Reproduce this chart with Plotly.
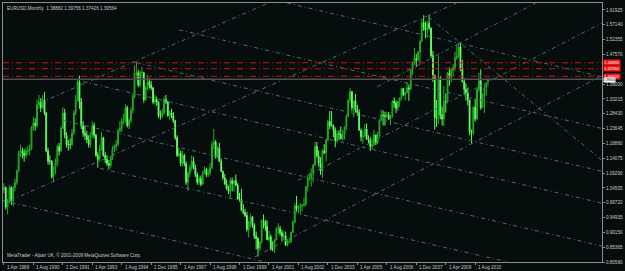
import pandas as pd
import plotly.graph_objects as go

# ---- monthly OHLC, Apr 1989 .. Mar 2011 ----
open_ = [
    1.040, 1.046, 0.983, 1.003, 1.046, 1.003, 1.046, 1.063, 1.099,
    1.157, 1.164, 1.157, 1.150, 1.164, 1.164, 1.171, 1.238, 1.254, 1.246, 1.313, 1.322,
    1.304, 1.330, 1.287, 1.164, 1.131, 1.131, 1.081, 1.111, 1.124, 1.178, 1.164, 1.238,
    1.287, 1.215, 1.185, 1.185, 1.185, 1.222, 1.287, 1.330, 1.387, 1.322, 1.246, 1.222,
    1.215, 1.200, 1.185, 1.215, 1.246, 1.215, 1.150, 1.137, 1.171, 1.207, 1.150, 1.137,
    1.124, 1.118, 1.144, 1.171, 1.178, 1.185, 1.230, 1.238, 1.262, 1.262, 1.304, 1.246,
    1.262, 1.295, 1.340, 1.417, 1.417, 1.377, 1.417, 1.417, 1.330, 1.368, 1.387, 1.377,
    1.368, 1.322, 1.330, 1.322, 1.278, 1.278, 1.287, 1.330, 1.322, 1.278, 1.287, 1.278,
    1.262, 1.207, 1.150, 1.157, 1.124, 1.150, 1.124, 1.063, 1.093, 1.111, 1.131, 1.111,
    1.087, 1.063, 1.075, 1.057, 1.093, 1.105, 1.087, 1.093, 1.111, 1.185, 1.193, 1.144,
    1.174, 1.130, 1.098, 1.078, 1.057, 1.043, 1.034, 1.068, 1.059, 1.068, 1.054, 1.009,
    1.007, 0.972, 0.965, 0.956, 0.911, 0.935, 0.952, 0.924, 0.889, 0.882, 0.850, 0.870,
    0.939, 0.936, 0.921, 0.878, 0.887, 0.847, 0.847, 0.877, 0.912, 0.913, 0.900, 0.889,
    0.890, 0.860, 0.870, 0.872, 0.902, 0.934, 0.987, 0.978, 0.981, 0.986, 0.989, 0.993,
    1.049, 1.077, 1.079, 1.091, 1.118, 1.179, 1.149, 1.125, 1.099, 1.164, 1.158, 1.200,
    1.259, 1.246, 1.246, 1.231, 1.198, 1.220, 1.218, 1.203, 1.217, 1.241, 1.276, 1.329,
    1.356, 1.304, 1.326, 1.296, 1.288, 1.231, 1.210, 1.212, 1.235, 1.202, 1.199, 1.179,
    1.184, 1.216, 1.192, 1.212, 1.262, 1.280, 1.279, 1.276, 1.281, 1.267, 1.276, 1.325,
    1.319, 1.302, 1.324, 1.335, 1.366, 1.345, 1.354, 1.368, 1.364, 1.426, 1.447, 1.463,
    1.459, 1.483, 1.518, 1.578, 1.562, 1.555, 1.576, 1.561, 1.472, 1.409, 1.272, 1.270,
    1.397, 1.280, 1.267, 1.324, 1.323, 1.416, 1.403, 1.425, 1.433, 1.464, 1.472, 1.500,
    1.432, 1.387, 1.363, 1.351, 1.329, 1.227, 1.223, 1.305, 1.268, 1.363, 1.391, 1.304,
    1.338, 1.369, 1.38882,
]
high = [
    1.060, 1.050, 1.010, 1.055, 1.050, 1.050, 1.075, 1.105, 1.165,
    1.185, 1.175, 1.170, 1.175, 1.180, 1.185, 1.245, 1.275, 1.270, 1.330, 1.345, 1.335,
    1.345, 1.354, 1.290, 1.175, 1.150, 1.135, 1.115, 1.140, 1.185, 1.190, 1.245, 1.305,
    1.300, 1.225, 1.200, 1.205, 1.235, 1.295, 1.345, 1.395, 1.407, 1.335, 1.260, 1.245,
    1.230, 1.215, 1.225, 1.260, 1.255, 1.220, 1.160, 1.185, 1.225, 1.210, 1.160, 1.150,
    1.135, 1.150, 1.180, 1.185, 1.200, 1.235, 1.260, 1.270, 1.285, 1.315, 1.310, 1.270,
    1.305, 1.350, 1.440, 1.454, 1.425, 1.425, 1.435, 1.420, 1.375, 1.410, 1.400, 1.390,
    1.370, 1.345, 1.340, 1.325, 1.295, 1.300, 1.340, 1.345, 1.325, 1.295, 1.300, 1.290,
    1.265, 1.215, 1.175, 1.165, 1.165, 1.155, 1.130, 1.100, 1.120, 1.150, 1.145, 1.120,
    1.095, 1.085, 1.085, 1.100, 1.115, 1.110, 1.105, 1.125, 1.195, 1.235, 1.200, 1.180,
    1.1905, 1.140, 1.100, 1.090, 1.072, 1.052, 1.078, 1.078, 1.070, 1.088, 1.060, 1.029,
    1.042, 0.992, 0.978, 0.968, 0.938, 0.962, 0.953, 0.931, 0.904, 0.886, 0.872, 0.944,
    0.959, 0.942, 0.940, 0.906, 0.895, 0.873, 0.881, 0.919, 0.931, 0.922, 0.909, 0.905,
    0.904, 0.879, 0.884, 0.904, 0.940, 0.996, 1.019, 0.989, 0.996, 0.992, 1.014, 1.050,
    1.086, 1.093, 1.108, 1.123, 1.193, 1.193, 1.166, 1.144, 1.170, 1.186, 1.202, 1.264,
    1.293, 1.293, 1.250, 1.240, 1.230, 1.232, 1.243, 1.233, 1.243, 1.282, 1.330, 1.367,
    1.356, 1.328, 1.348, 1.313, 1.299, 1.237, 1.229, 1.251, 1.253, 1.215, 1.209, 1.204,
    1.232, 1.217, 1.225, 1.266, 1.298, 1.295, 1.291, 1.291, 1.290, 1.281, 1.328, 1.337,
    1.327, 1.326, 1.337, 1.368, 1.368, 1.355, 1.385, 1.379, 1.428, 1.453, 1.497, 1.478,
    1.487, 1.524, 1.591, 1.602, 1.582, 1.584, 1.604, 1.562, 1.487, 1.409, 1.329, 1.472,
    1.406, 1.307, 1.374, 1.350, 1.419, 1.434, 1.431, 1.444, 1.485, 1.506, 1.514, 1.514,
    1.458, 1.399, 1.382, 1.369, 1.329, 1.233, 1.310, 1.333, 1.368, 1.416, 1.428, 1.350,
    1.379, 1.386, 1.39756,
]
low = [
    1.028, 0.975, 0.959, 0.995, 0.990, 0.985, 1.035, 1.055, 1.095,
    1.145, 1.140, 1.130, 1.140, 1.150, 1.150, 1.168, 1.230, 1.230, 1.240, 1.300, 1.290,
    1.300, 1.280, 1.160, 1.120, 1.120, 1.075, 1.065, 1.090, 1.115, 1.150, 1.160, 1.235,
    1.205, 1.175, 1.165, 1.170, 1.180, 1.215, 1.280, 1.325, 1.300, 1.235, 1.210, 1.200,
    1.190, 1.175, 1.175, 1.205, 1.205, 1.145, 1.110, 1.130, 1.165, 1.145, 1.125, 1.115,
    1.105, 1.110, 1.135, 1.160, 1.165, 1.180, 1.225, 1.225, 1.250, 1.255, 1.240, 1.235,
    1.255, 1.285, 1.335, 1.400, 1.370, 1.370, 1.400, 1.320, 1.325, 1.360, 1.365, 1.360,
    1.315, 1.315, 1.310, 1.270, 1.265, 1.270, 1.280, 1.315, 1.275, 1.265, 1.270, 1.255,
    1.200, 1.145, 1.145, 1.115, 1.115, 1.115, 1.055, 1.035, 1.080, 1.100, 1.105, 1.080,
    1.055, 1.055, 1.050, 1.055, 1.090, 1.080, 1.080, 1.085, 1.105, 1.170, 1.140, 1.140,
    1.1288, 1.096, 1.071, 1.056, 1.038, 1.025, 1.010, 1.034, 1.033, 1.050, 1.008, 1.000,
    0.970, 0.960, 0.951, 0.904, 0.885, 0.918, 0.916, 0.880, 0.846, 0.823, 0.840, 0.866,
    0.914, 0.906, 0.876, 0.871, 0.843, 0.840, 0.835, 0.876, 0.896, 0.891, 0.872, 0.877,
    0.859, 0.856, 0.866, 0.867, 0.900, 0.931, 0.968, 0.964, 0.961, 0.970, 0.985, 0.986,
    1.034, 1.067, 1.050, 1.063, 1.115, 1.142, 1.114, 1.087, 1.077, 1.154, 1.131, 1.195,
    1.234, 1.242, 1.209, 1.176, 1.191, 1.199, 1.203, 1.197, 1.201, 1.231, 1.273, 1.317,
    1.292, 1.273, 1.288, 1.278, 1.230, 1.195, 1.187, 1.209, 1.201, 1.187, 1.164, 1.170,
    1.180, 1.183, 1.186, 1.207, 1.260, 1.246, 1.246, 1.270, 1.264, 1.248, 1.271, 1.304,
    1.287, 1.293, 1.307, 1.330, 1.341, 1.327, 1.348, 1.326, 1.360, 1.408, 1.442, 1.435,
    1.453, 1.444, 1.515, 1.552, 1.528, 1.529, 1.556, 1.464, 1.388, 1.233, 1.242, 1.251,
    1.266, 1.246, 1.245, 1.288, 1.320, 1.374, 1.385, 1.404, 1.423, 1.458, 1.464, 1.422,
    1.386, 1.344, 1.327, 1.311, 1.215, 1.188, 1.215, 1.259, 1.264, 1.355, 1.297, 1.303,
    1.287, 1.343, 1.37426,
]
close = [
    1.046, 0.983, 1.003, 1.046, 1.003, 1.046, 1.063, 1.099, 1.157,
    1.164, 1.157, 1.150, 1.164, 1.164, 1.171, 1.238, 1.254, 1.246, 1.313, 1.322, 1.304,
    1.330, 1.287, 1.164, 1.131, 1.131, 1.081, 1.111, 1.124, 1.178, 1.164, 1.238, 1.287,
    1.215, 1.185, 1.185, 1.185, 1.222, 1.287, 1.330, 1.387, 1.322, 1.246, 1.222, 1.215,
    1.200, 1.185, 1.215, 1.246, 1.215, 1.150, 1.137, 1.171, 1.207, 1.150, 1.137, 1.124,
    1.118, 1.144, 1.171, 1.178, 1.185, 1.230, 1.238, 1.262, 1.262, 1.304, 1.246, 1.262,
    1.295, 1.340, 1.417, 1.417, 1.377, 1.417, 1.417, 1.330, 1.368, 1.387, 1.377, 1.368,
    1.322, 1.330, 1.322, 1.278, 1.278, 1.287, 1.330, 1.322, 1.278, 1.287, 1.278, 1.262,
    1.207, 1.150, 1.157, 1.124, 1.150, 1.124, 1.063, 1.093, 1.111, 1.131, 1.111, 1.087,
    1.063, 1.075, 1.057, 1.093, 1.105, 1.087, 1.093, 1.111, 1.185, 1.193, 1.144, 1.171,
    1.130, 1.098, 1.078, 1.057, 1.043, 1.034, 1.068, 1.059, 1.068, 1.054, 1.009, 1.007,
    0.972, 0.965, 0.956, 0.911, 0.935, 0.952, 0.924, 0.889, 0.882, 0.850, 0.870, 0.939,
    0.936, 0.921, 0.878, 0.887, 0.847, 0.847, 0.877, 0.912, 0.913, 0.900, 0.889, 0.890,
    0.860, 0.870, 0.872, 0.902, 0.934, 0.987, 0.978, 0.981, 0.986, 0.989, 0.993, 1.049,
    1.077, 1.079, 1.091, 1.118, 1.179, 1.149, 1.125, 1.099, 1.164, 1.158, 1.200, 1.259,
    1.246, 1.246, 1.231, 1.198, 1.220, 1.218, 1.203, 1.217, 1.241, 1.276, 1.329, 1.356,
    1.304, 1.326, 1.296, 1.288, 1.231, 1.210, 1.212, 1.235, 1.202, 1.199, 1.179, 1.184,
    1.216, 1.192, 1.212, 1.262, 1.280, 1.279, 1.276, 1.281, 1.267, 1.276, 1.325, 1.319,
    1.302, 1.324, 1.335, 1.366, 1.345, 1.354, 1.368, 1.364, 1.426, 1.447, 1.463, 1.459,
    1.483, 1.518, 1.578, 1.562, 1.555, 1.576, 1.561, 1.472, 1.409, 1.272, 1.270, 1.397,
    1.280, 1.267, 1.324, 1.323, 1.416, 1.403, 1.425, 1.433, 1.464, 1.472, 1.500, 1.432,
    1.387, 1.363, 1.351, 1.329, 1.227, 1.223, 1.305, 1.268, 1.363, 1.391, 1.304, 1.338,
    1.369, 1.381, 1.39564,
]
first_month = "1989-04-01"

# ---- axis ticks ----
x_tick_dates = ["1989-04-01", "1990-08-01", "1991-12-01", "1993-04-01", "1994-08-01",
                "1995-12-01", "1997-04-01", "1998-08-01", "1999-12-01", "2001-04-01",
                "2002-08-01", "2003-12-01", "2005-04-01", "2006-08-01", "2007-12-01",
                "2009-04-01", "2010-08-01"]
x_tick_labels = ["1 Apr 1989", "1 Aug 1990", "1 Dec 1991", "1 Apr 1993", "1 Aug 1994",
                 "1 Dec 1995", "1 Apr 1997", "1 Aug 1998", "1 Dec 1999", "1 Apr 2001",
                 "1 Aug 2002", "1 Dec 2003", "1 Apr 2005", "1 Aug 2006", "1 Dec 2007",
                 "1 Apr 2009", "1 Aug 2010"]
y_ticks = [1.61925, 1.57140, 1.52355, 1.47570, 1.38000, 1.33215, 1.28430,
           1.23645, 1.18860, 1.14075, 1.09290, 1.04505, 0.99720, 0.94935, 0.90150,
           0.85365, 0.80580]

# ---- drawn objects: horizontal levels and trend lines (date, price) ----
red_levels = [1.44890, 1.42960, 1.40520]
red_labels = ["1.44890", "1.42960", "1.40520"]
bid_price = 1.39564
trend_lines = [
    (("2002-01-27", 1.6418), ("2016-04-28", 1.4039)),
    (("1997-03-09", 1.5550), ("2016-04-28", 1.2367)),
    (("1995-04-05", 1.4489), ("2016-04-28", 1.0985)),
    (("1992-11-03", 1.3878), ("2016-04-28", 0.9956)),
    (("1991-12-10", 1.2624), ("2016-04-28", 0.8573)),
    (("1993-08-08", 1.1081), ("2012-01-26", 0.8058)),
    (("1989-02-14", 1.0052), ("2001-02-02", 0.8058)),
    (("1989-07-25", 1.0052), ("2009-09-27", 1.6418)),
    (("1990-11-29", 1.3203), ("2001-03-21", 1.6418)),
    (("2000-08-07", 0.8220), ("2016-04-28", 1.4071)),
    (("2002-07-25", 1.0695), ("2016-04-28", 1.5775)),
    (("2006-02-26", 1.3717), ("2013-04-28", 1.6418)),
    (("2008-06-25", 1.5967), ("2016-04-28", 1.1337)),
]

BG = "#060d0d"
FRAME = "#8c8c8c"
TXT = "#c8c8c8"
FONT = "Liberation Sans"
FS = 4.6

dates = pd.date_range(first_month, periods=len(close), freq="MS")

fig = go.Figure()

for (d1, p1), (d2, p2) in trend_lines:
    fig.add_trace(go.Scatter(x=[d1, d2], y=[p1, p2], mode="lines",
                             line=dict(color="#3f766c", width=1, dash="4px,3px,1px,3px"),
                             hoverinfo="skip", showlegend=False))

fig.add_trace(go.Candlestick(
    x=dates, open=open_, high=high, low=low, close=close,
    increasing=dict(line=dict(color="#22b022", width=1), fillcolor="#107a10"),
    decreasing=dict(line=dict(color="#5cff5c", width=1), fillcolor="#b4ffb4"),
    whiskerwidth=0, showlegend=False, hoverinfo="skip"))

shapes = []
for lv in red_levels:
    shapes.append(dict(type="line", xref="paper", x0=0, x1=1, yref="y", y0=lv, y1=lv,
                       line=dict(color="#c81212", width=1, dash="6px,3px,1px,3px"), layer="above"))
shapes.append(dict(type="line", xref="paper", x0=0, x1=1, yref="y", y0=bid_price, y1=bid_price,
                   line=dict(color="#4a5252", width=1.5), layer="above"))

annotations = []
for d, t in zip(x_tick_dates, x_tick_labels):
    annotations.append(dict(x=d, y=0, xref="x", yref="paper", text=t, showarrow=False,
                            xanchor="left", yanchor="top", xshift=1, yshift=-1,
                            font=dict(family=FONT, size=FS, color=TXT)))
for lv, t in zip(red_levels, red_labels):
    annotations.append(dict(x=1, y=lv, xref="paper", yref="y", text=t, showarrow=False,
                            xanchor="left", yanchor="middle", xshift=1,
                            bgcolor="#f01010", borderpad=0,
                            font=dict(family=FONT, size=4.2, color="#ffffff")))
annotations.append(dict(x=1, y=bid_price, xref="paper", yref="y", text=f"{bid_price:.5f}",
                        showarrow=False, xanchor="left", yanchor="middle", xshift=1, yshift=-0.7,
                        bgcolor="#ffffff", borderpad=0,
                        font=dict(family=FONT, size=3.0, color="#000000")))
annotations.append(dict(x=0, y=1, xref="paper", yref="paper",
                        text="EURUSD,Monthly  1.38882 1.39756 1.37426 1.39564",
                        showarrow=False, xanchor="left", yanchor="top", xshift=2, yshift=-1,
                        font=dict(family=FONT, size=FS, color=TXT)))
annotations.append(dict(x=0, y=0, xref="paper", yref="paper",
                        text="MetaTrader - Alpari UK, © 2001-2009 MetaQuotes Software Corp.",
                        showarrow=False, xanchor="left", yanchor="bottom", xshift=2, yshift=2,
                        font=dict(family=FONT, size=FS, color=TXT)))

fig.update_layout(
    width=625, height=271,
    margin=dict(l=2, r=18, t=2, b=9),
    paper_bgcolor=BG, plot_bgcolor=BG,
    showlegend=False,
    shapes=shapes, annotations=annotations,
    xaxis=dict(range=["1989-03-17", "2016-04-28"], rangeslider=dict(visible=False),
               showgrid=False, zeroline=False, showline=True, linecolor=FRAME, linewidth=1,
               mirror=True, ticks="outside", ticklen=2, tickcolor=FRAME,
               tickvals=x_tick_dates, showticklabels=False, fixedrange=True),
    yaxis=dict(range=[0.8058, 1.6418], side="right", showgrid=False, zeroline=False,
               showline=True, linecolor=FRAME, linewidth=1, mirror=True,
               ticks="outside", ticklen=2, tickcolor=FRAME,
               tickvals=y_ticks, ticktext=[f"{v:.5f}" for v in y_ticks],
               tickfont=dict(family=FONT, size=FS, color=TXT), fixedrange=True),
)

fig.write_html("out.html")
